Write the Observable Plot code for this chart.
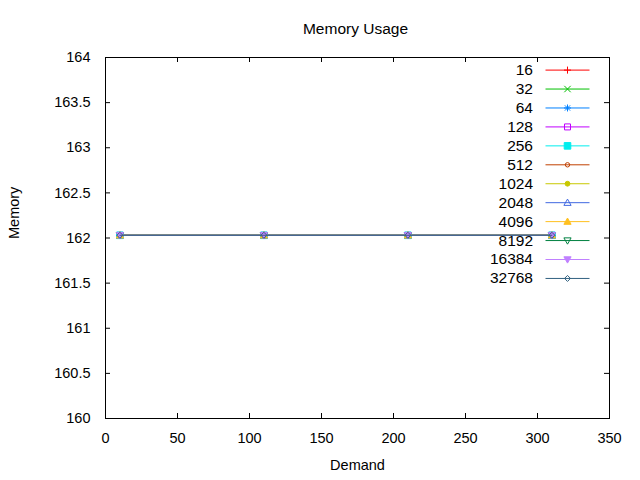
<!DOCTYPE html>
<html>
<head>
<meta charset="utf-8">
<script src="https://cdn.jsdelivr.net/npm/d3@7"></script>
<script src="https://cdn.jsdelivr.net/npm/@observablehq/plot@0.6"></script>
<style>
  html, body { margin: 0; padding: 0; background: #fff; }
</style>
</head>
<body>
<div id="chart"></div>
<script>
// ---- Data ----
const chartTitle = "Memory Usage";
const xLabel = "Demand";
const yLabel = "Memory";
const demand = [10, 110, 210, 310];
const seriesLabels = ["16", "32", "64", "128", "256", "512", "1024", "2048", "4096", "8192", "16384", "32768"];
const memoryValues = [
  [162.03, 162.03, 162.03, 162.03],
  [162.03, 162.03, 162.03, 162.03],
  [162.03, 162.03, 162.03, 162.03],
  [162.03, 162.03, 162.03, 162.03],
  [162.03, 162.03, 162.03, 162.03],
  [162.03, 162.03, 162.03, 162.03],
  [162.03, 162.03, 162.03, 162.03],
  [162.03, 162.03, 162.03, 162.03],
  [162.03, 162.03, 162.03, 162.03],
  [162.03, 162.03, 162.03, 162.03],
  [162.03, 162.03, 162.03, 162.03],
  [162.03, 162.03, 162.03, 162.03]
];
const xTicks = [0, 50, 100, 150, 200, 250, 300, 350];
const yTicks = [160, 160.5, 161, 161.5, 162, 162.5, 163, 163.5, 164];

// ---- Styles ----
const seriesColors = ["#ff0000", "#00c000", "#0080ff", "#c000ff", "#00eeee", "#c04000",
                      "#c8c800", "#4169e1", "#ffc020", "#008040", "#c080ff", "#306080"];

const sym = (f) => ({ draw(ctx, size) { f(ctx, Math.sqrt(size / Math.PI)); } });
const plusS = sym((c, r) => { c.moveTo(-r, 0); c.lineTo(r, 0); c.moveTo(0, -r); c.lineTo(0, r); });
const timesS = sym((c, r) => { c.moveTo(-r, -r); c.lineTo(r, r); c.moveTo(-r, r); c.lineTo(r, -r); });
const starS = sym((c, r) => { c.moveTo(-r, 0); c.lineTo(r, 0); c.moveTo(0, -r); c.lineTo(0, r);
  const q = r * 0.75; c.moveTo(-q, -q); c.lineTo(q, q); c.moveTo(-q, q); c.lineTo(q, -q); });
const squareS = sym((c, r) => { c.rect(-r, -r, 2 * r, 2 * r); });
const circleS = sym((c, r) => { c.moveTo(r, 0); c.arc(0, 0, r, 0, 2 * Math.PI); });
const triS = sym((c, r) => { c.moveTo(0, -r); c.lineTo(r, r * 0.75); c.lineTo(-r, r * 0.75); c.closePath(); });
const itriS = sym((c, r) => { c.moveTo(0, r); c.lineTo(r, -r * 0.75); c.lineTo(-r, -r * 0.75); c.closePath(); });
const diamondS = sym((c, r) => { c.moveTo(0, -r); c.lineTo(r, 0); c.lineTo(0, r); c.lineTo(-r, 0); c.closePath(); });
const hlineS = { draw(c) { c.moveTo(-22, 0); c.lineTo(22, 0); } };

const markerStyles = [
  { symbol: plusS, r: 3.5, filled: false },
  { symbol: timesS, r: 3.2, filled: false },
  { symbol: starS, r: 3.5, filled: false },
  { symbol: squareS, r: 3, filled: false },
  { symbol: squareS, r: 3.3, filled: true },
  { symbol: circleS, r: 2.2, filled: false },
  { symbol: circleS, r: 2.4, filled: true },
  { symbol: triS, r: 3.6, filled: false },
  { symbol: triS, r: 3.6, filled: true },
  { symbol: itriS, r: 3.6, filled: false },
  { symbol: itriS, r: 3.6, filled: true },
  { symbol: diamondS, r: 3, filled: false }
];

const W = 640, H = 480;
const mL = 105, mR = 31, mT = 57, mB = 62;
const innerW = W - mL - mR, innerH = H - mT - mB;
const tickLen = 5;
const fontFamily = "'Liberation Sans', Arial, Helvetica, sans-serif";

const marks = [];
marks.push(Plot.frame({ stroke: "black", strokeWidth: 1 }));
// inward ticks on all four sides
marks.push(Plot.tickX(xTicks, { x: d => d, insetTop: innerH - tickLen, stroke: "black" }));
marks.push(Plot.tickX(xTicks, { x: d => d, insetBottom: innerH - tickLen, stroke: "black" }));
marks.push(Plot.tickY(yTicks, { y: d => d, insetRight: innerW - tickLen, stroke: "black" }));
marks.push(Plot.tickY(yTicks, { y: d => d, insetLeft: innerW - tickLen, stroke: "black" }));
// tick labels
marks.push(Plot.axisX({ ticks: xTicks, anchor: "bottom", tickSize: 0, tickPadding: 14, label: null, fontSize: 14.5, tickFormat: d => String(d) }));
marks.push(Plot.axisY({ ticks: yTicks, anchor: "left", tickSize: 0, tickPadding: 15, label: null, fontSize: 14.5, tickFormat: d => String(d) }));

// series
seriesLabels.forEach((s, i) => {
  const rows = demand.map((d, j) => ({ demand: d, memory: memoryValues[i][j] }));
  const color = seriesColors[i];
  const ms = markerStyles[i];
  marks.push(Plot.lineY(rows, { x: "demand", y: "memory", stroke: color, strokeWidth: 1 }));
  marks.push(Plot.dot(rows, { x: "demand", y: "memory", symbol: ms.symbol, r: ms.r,
    stroke: color, fill: ms.filled ? color : "none", strokeWidth: 1 }));
});

// legend (inside, top-right)
seriesLabels.forEach((s, i) => {
  const color = seriesColors[i];
  const ms = markerStyles[i];
  const dy = 12.6 + i * 18.94;
  marks.push(Plot.text([s], { text: d => d, frameAnchor: "top-right", dx: -76.5, dy,
    textAnchor: "end", lineAnchor: "middle", fontSize: 15.5, fill: "black" }));
  marks.push(Plot.dot([s], { frameAnchor: "top-right", dx: -42, dy, symbol: hlineS, r: 1,
    stroke: color, fill: "none", strokeWidth: 1 }));
  marks.push(Plot.dot([s], { frameAnchor: "top-right", dx: -42, dy, symbol: ms.symbol, r: ms.r,
    stroke: color, fill: ms.filled ? color : "none", strokeWidth: 1 }));
});

// title and axis labels
marks.push(Plot.text([chartTitle], { text: d => d, frameAnchor: "top", dx: -2, dy: -28.5, fontSize: 15.5, lineAnchor: "middle", fill: "black" }));
marks.push(Plot.text([xLabel], { text: d => d, frameAnchor: "bottom", dx: 0, dy: 47, fontSize: 14.5, lineAnchor: "middle", fill: "black" }));
marks.push(Plot.text([yLabel], { text: d => d, frameAnchor: "left", dx: -91, dy: 1, rotate: -90, fontSize: 14.5, lineAnchor: "middle", fill: "black" }));

const chart = Plot.plot({
  width: W,
  height: H,
  marginLeft: mL,
  marginRight: mR,
  marginTop: mT,
  marginBottom: mB,
  x: { domain: [0, 350], label: null },
  y: { domain: [160, 164], label: null },
  style: { fontFamily, fontSize: "14px", background: "white", color: "black", overflow: "visible" },
  marks
});
document.getElementById("chart").appendChild(chart);
</script>
</body>
</html>
